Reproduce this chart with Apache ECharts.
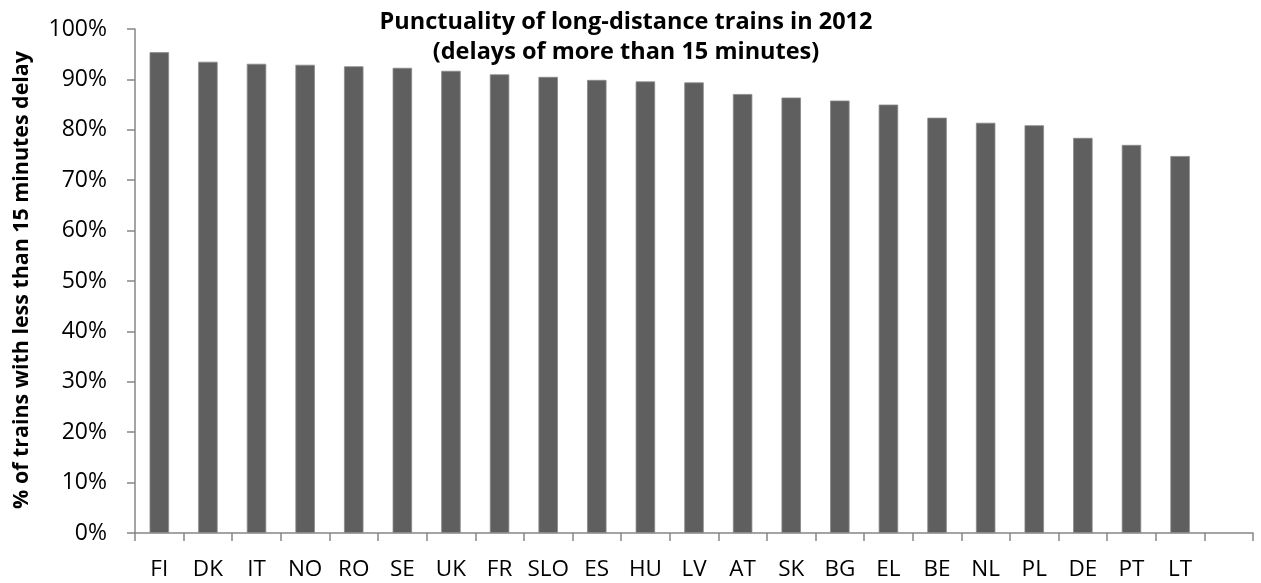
<!DOCTYPE html>
<html>
<head>
<meta charset="utf-8">
<script src="https://cdn.jsdelivr.net/npm/echarts@6/dist/echarts.min.js"></script>
<style>
  html, body { margin: 0; padding: 0; background: #fff; }
  #canvas { width: 1261px; height: 583px; }
</style>
</head>
<body>
<div id="canvas"></div>
<script>
// countries, sorted by punctuality; the last slot is empty like in the original
var countries = ['FI', 'DK', 'IT', 'NO', 'RO', 'SE', 'UK', 'FR', 'SLO', 'ES', 'HU',
                 'LV', 'AT', 'SK', 'BG', 'EL', 'BE', 'NL', 'PL', 'DE', 'PT', 'LT', ''];
var punctuality = [95.4, 93.5, 93.1, 92.9, 92.6, 92.3, 91.7, 91.0, 90.5, 89.9, 89.6,
                   89.4, 87.1, 86.4, 85.8, 85.0, 82.4, 81.4, 80.9, 78.4, 77.0, 74.8, '-'];
var yTicks = [0, 10, 20, 30, 40, 50, 60, 70, 80, 90, 100];

var axisGrey = '#868686';
var fontName = 'Open Sans';

var myChart = echarts.init(document.getElementById('canvas'));
var option = {
    animation: false,
    title: {
        text: 'Punctuality of long-distance trains in 2012\n(delays of more than 15 minutes)',
        left: 621,
        top: 2,
        textAlign: 'center',
        textStyle: {
            fontFamily: fontName,
            fontWeight: 'bold',
            fontSize: 23.5,
            lineHeight: 30,
            color: '#000'
        }
    },
    graphic: [{
        type: 'text',
        x: 22,
        y: 280,
        rotation: Math.PI / 2,
        style: {
            text: '% of trains with less than 15 minutes delay',
            fontFamily: fontName,
            fontWeight: 'bold',
            fontSize: 21.4,
            fill: '#000',
            align: 'center',
            verticalAlign: 'middle'
        }
    }],
    grid: {
        left: 135,
        right: 8,
        top: 29,
        bottom: 50,
        containLabel: false
    },
    xAxis: {
        type: 'category',
        data: countries,
        boundaryGap: true,
        axisLine: { lineStyle: { color: axisGrey, width: 1.5 } },
        axisTick: { show: true, length: 8, lineStyle: { color: axisGrey, width: 1.5 } },
        axisLabel: {
            interval: 0,
            margin: 25,
            color: '#000',
            fontFamily: fontName,
            fontSize: 22.5
        }
    },
    yAxis: {
        type: 'value',
        min: yTicks[0],
        max: yTicks[yTicks.length - 1],
        interval: 10,
        splitLine: { show: false },
        axisLine: { show: true, lineStyle: { color: axisGrey, width: 1.5 } },
        axisTick: { show: true, length: 8, lineStyle: { color: axisGrey, width: 1.5 } },
        axisLabel: {
            margin: 28,
            color: '#000',
            fontFamily: fontName,
            fontSize: 23,
            formatter: '{value}%'
        }
    },
    series: [{
        type: 'bar',
        data: punctuality,
        barWidth: '40%',
        itemStyle: {
            color: '#5f5f5f',
            borderColor: '#8a8a8a',
            borderWidth: 0.8
        }
    }]
};
myChart.setOption(option);
</script>
</body>
</html>
